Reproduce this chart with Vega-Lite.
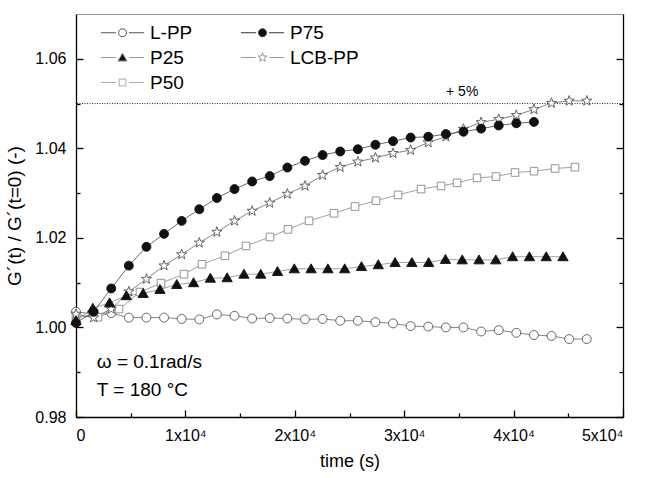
{
  "$schema": "https://vega.github.io/schema/vega-lite/v6.json",
  "width": 547,
  "height": 403,
  "autosize": {"type": "none"},
  "padding": {"left": 76, "top": 14, "right": 23, "bottom": 61},
  "background": "white",
  "config": {
    "view": {"stroke": "#9a9a9a", "strokeWidth": 1},
    "font": "Liberation Sans",
    "axis": {
      "grid": false,
      "labelFont": "Liberation Sans",
      "titleFont": "Liberation Sans",
      "labelColor": "#000",
      "titleColor": "#000",
      "titleFontWeight": "normal",
      "domainColor": "#000",
      "tickColor": "#000",
      "domainWidth": 1.3,
      "tickWidth": 1.3,
      "labelFontSize": 16,
      "titleFontSize": 18
    }
  },
  "data": {
    "values": [
      {"s": "L-PP", "t": 0, "v": 1.0035},
      {"s": "L-PP", "t": 1610, "v": 1.0030},
      {"s": "L-PP", "t": 3220, "v": 1.0032},
      {"s": "L-PP", "t": 4830, "v": 1.0022},
      {"s": "L-PP", "t": 6440, "v": 1.0022},
      {"s": "L-PP", "t": 8050, "v": 1.0022},
      {"s": "L-PP", "t": 9660, "v": 1.0019},
      {"s": "L-PP", "t": 11270, "v": 1.0018},
      {"s": "L-PP", "t": 12880, "v": 1.0029},
      {"s": "L-PP", "t": 14490, "v": 1.0026},
      {"s": "L-PP", "t": 16100, "v": 1.0020},
      {"s": "L-PP", "t": 17710, "v": 1.0021},
      {"s": "L-PP", "t": 19320, "v": 1.0020},
      {"s": "L-PP", "t": 20930, "v": 1.0018},
      {"s": "L-PP", "t": 22540, "v": 1.0019},
      {"s": "L-PP", "t": 24150, "v": 1.0015},
      {"s": "L-PP", "t": 25760, "v": 1.0015},
      {"s": "L-PP", "t": 27370, "v": 1.0012},
      {"s": "L-PP", "t": 28980, "v": 1.0009},
      {"s": "L-PP", "t": 30590, "v": 1.0003},
      {"s": "L-PP", "t": 32200, "v": 1.0002},
      {"s": "L-PP", "t": 33810, "v": 1.0000},
      {"s": "L-PP", "t": 35420, "v": 1.0000},
      {"s": "L-PP", "t": 37030, "v": 0.9991},
      {"s": "L-PP", "t": 38640, "v": 0.9994},
      {"s": "L-PP", "t": 40250, "v": 0.9988},
      {"s": "L-PP", "t": 41860, "v": 0.9983},
      {"s": "L-PP", "t": 43470, "v": 0.9981},
      {"s": "L-PP", "t": 45080, "v": 0.9974},
      {"s": "L-PP", "t": 46690, "v": 0.9974},
      {"s": "P50", "t": 0, "v": 1.0025},
      {"s": "P50", "t": 2010, "v": 1.0023},
      {"s": "P50", "t": 3930, "v": 1.0041},
      {"s": "P50", "t": 5850, "v": 1.0079},
      {"s": "P50", "t": 7770, "v": 1.0099},
      {"s": "P50", "t": 9870, "v": 1.0119},
      {"s": "P50", "t": 11520, "v": 1.0141},
      {"s": "P50", "t": 13620, "v": 1.0160},
      {"s": "P50", "t": 15540, "v": 1.0182},
      {"s": "P50", "t": 17730, "v": 1.0202},
      {"s": "P50", "t": 19380, "v": 1.0219},
      {"s": "P50", "t": 21300, "v": 1.0238},
      {"s": "P50", "t": 23580, "v": 1.0255},
      {"s": "P50", "t": 25500, "v": 1.0270},
      {"s": "P50", "t": 27420, "v": 1.0283},
      {"s": "P50", "t": 29440, "v": 1.0296},
      {"s": "P50", "t": 31540, "v": 1.0309},
      {"s": "P50", "t": 33370, "v": 1.0316},
      {"s": "P50", "t": 34830, "v": 1.0323},
      {"s": "P50", "t": 36660, "v": 1.0334},
      {"s": "P50", "t": 38390, "v": 1.0337},
      {"s": "P50", "t": 40130, "v": 1.0346},
      {"s": "P50", "t": 41870, "v": 1.0349},
      {"s": "P50", "t": 43790, "v": 1.0355},
      {"s": "P50", "t": 45610, "v": 1.0358},
      {"s": "LCB-PP", "t": 0, "v": 1.0030},
      {"s": "LCB-PP", "t": 1610, "v": 1.0022},
      {"s": "LCB-PP", "t": 3220, "v": 1.0041},
      {"s": "LCB-PP", "t": 4830, "v": 1.0080},
      {"s": "LCB-PP", "t": 6440, "v": 1.0108},
      {"s": "LCB-PP", "t": 8050, "v": 1.0138},
      {"s": "LCB-PP", "t": 9660, "v": 1.0163},
      {"s": "LCB-PP", "t": 11270, "v": 1.0189},
      {"s": "LCB-PP", "t": 12880, "v": 1.0213},
      {"s": "LCB-PP", "t": 14490, "v": 1.0238},
      {"s": "LCB-PP", "t": 16100, "v": 1.0260},
      {"s": "LCB-PP", "t": 17710, "v": 1.0278},
      {"s": "LCB-PP", "t": 19320, "v": 1.0298},
      {"s": "LCB-PP", "t": 20930, "v": 1.0316},
      {"s": "LCB-PP", "t": 22540, "v": 1.0340},
      {"s": "LCB-PP", "t": 24150, "v": 1.0358},
      {"s": "LCB-PP", "t": 25760, "v": 1.0370},
      {"s": "LCB-PP", "t": 27370, "v": 1.0379},
      {"s": "LCB-PP", "t": 28980, "v": 1.0389},
      {"s": "LCB-PP", "t": 30590, "v": 1.0396},
      {"s": "LCB-PP", "t": 32200, "v": 1.0413},
      {"s": "LCB-PP", "t": 33810, "v": 1.0426},
      {"s": "LCB-PP", "t": 35420, "v": 1.0443},
      {"s": "LCB-PP", "t": 37030, "v": 1.0458},
      {"s": "LCB-PP", "t": 38640, "v": 1.0465},
      {"s": "LCB-PP", "t": 40250, "v": 1.0474},
      {"s": "LCB-PP", "t": 41860, "v": 1.0487},
      {"s": "LCB-PP", "t": 43470, "v": 1.0501},
      {"s": "LCB-PP", "t": 45080, "v": 1.0506},
      {"s": "LCB-PP", "t": 46690, "v": 1.0506},
      {"s": "P25", "t": 0, "v": 1.0015},
      {"s": "P25", "t": 1535, "v": 1.0043},
      {"s": "P25", "t": 3070, "v": 1.0055},
      {"s": "P25", "t": 4605, "v": 1.0071},
      {"s": "P25", "t": 6140, "v": 1.0076},
      {"s": "P25", "t": 7675, "v": 1.0085},
      {"s": "P25", "t": 9210, "v": 1.0096},
      {"s": "P25", "t": 10745, "v": 1.0100},
      {"s": "P25", "t": 12280, "v": 1.0110},
      {"s": "P25", "t": 13815, "v": 1.0111},
      {"s": "P25", "t": 15350, "v": 1.0119},
      {"s": "P25", "t": 16885, "v": 1.0119},
      {"s": "P25", "t": 18420, "v": 1.0125},
      {"s": "P25", "t": 19955, "v": 1.0131},
      {"s": "P25", "t": 21490, "v": 1.0131},
      {"s": "P25", "t": 23025, "v": 1.0131},
      {"s": "P25", "t": 24560, "v": 1.0131},
      {"s": "P25", "t": 26095, "v": 1.0136},
      {"s": "P25", "t": 27630, "v": 1.0140},
      {"s": "P25", "t": 29165, "v": 1.0145},
      {"s": "P25", "t": 30700, "v": 1.0145},
      {"s": "P25", "t": 32235, "v": 1.0145},
      {"s": "P25", "t": 33770, "v": 1.0152},
      {"s": "P25", "t": 35305, "v": 1.0151},
      {"s": "P25", "t": 36840, "v": 1.0151},
      {"s": "P25", "t": 38375, "v": 1.0151},
      {"s": "P25", "t": 39910, "v": 1.0158},
      {"s": "P25", "t": 41445, "v": 1.0158},
      {"s": "P25", "t": 42980, "v": 1.0158},
      {"s": "P25", "t": 44515, "v": 1.0158},
      {"s": "P75", "t": 0, "v": 1.0010},
      {"s": "P75", "t": 1610, "v": 1.0035},
      {"s": "P75", "t": 3220, "v": 1.0087},
      {"s": "P75", "t": 4830, "v": 1.0138},
      {"s": "P75", "t": 6440, "v": 1.0180},
      {"s": "P75", "t": 8050, "v": 1.0209},
      {"s": "P75", "t": 9660, "v": 1.0238},
      {"s": "P75", "t": 11270, "v": 1.0264},
      {"s": "P75", "t": 12880, "v": 1.0289},
      {"s": "P75", "t": 14490, "v": 1.0309},
      {"s": "P75", "t": 16100, "v": 1.0326},
      {"s": "P75", "t": 17710, "v": 1.0338},
      {"s": "P75", "t": 19320, "v": 1.0357},
      {"s": "P75", "t": 20930, "v": 1.0372},
      {"s": "P75", "t": 22540, "v": 1.0385},
      {"s": "P75", "t": 24150, "v": 1.0393},
      {"s": "P75", "t": 25760, "v": 1.0398},
      {"s": "P75", "t": 27370, "v": 1.0408},
      {"s": "P75", "t": 28980, "v": 1.0416},
      {"s": "P75", "t": 30590, "v": 1.0424},
      {"s": "P75", "t": 32200, "v": 1.0426},
      {"s": "P75", "t": 33810, "v": 1.0432},
      {"s": "P75", "t": 35420, "v": 1.0437},
      {"s": "P75", "t": 37030, "v": 1.0444},
      {"s": "P75", "t": 38640, "v": 1.0451},
      {"s": "P75", "t": 40250, "v": 1.0456},
      {"s": "P75", "t": 41860, "v": 1.0459}
    ]
  },
  "resolve": {
    "axis": {"x": "independent", "y": "independent"},
    "scale": {"shape": "independent", "fill": "independent", "stroke": "independent"}
  },
  "layer": [
    {
      "data": {"values": [{}]},
      "mark": {"type": "rule", "color": "#222", "strokeWidth": 1, "strokeDash": [1, 1.5]},
      "encoding": {
        "y": {"datum": 1.05, "type": "quantitative", "scale": {"domain": [0.98, 1.07], "nice": false, "zero": false}, "axis": null}
      }
    },
    {
      "mark": {"type": "line", "strokeWidth": 0.8},
      "encoding": {
        "x": {
          "field": "t", "type": "quantitative",
          "scale": {"domain": [0, 50000], "nice": false, "zero": false},
          "axis": {
            "orient": "bottom",
            "values": [0, 10000, 20000, 30000, 40000, 50000],
            "labelExpr": "datum.value == 0 ? '0' : format(datum.value / 10000, 'd') + 'x10⁴'",
            "tickSize": -7,
            "labelPadding": 17,
            "title": "time  (s)",
            "titlePadding": 9
          }
        },
        "y": {
          "field": "v", "type": "quantitative",
          "scale": {"domain": [0.98, 1.07], "nice": false, "zero": false},
          "axis": {
            "orient": "left",
            "values": [0.98, 1.0, 1.02, 1.04, 1.06],
            "format": ".2f",
            "tickSize": -7,
            "labelPadding": 17,
            "title": "G´(t) / G´(t=0)   (-)",
            "titleFontSize": 19,
            "titlePadding": 10
          }
        },
        "detail": {"field": "s", "type": "nominal"},
        "color": {
          "field": "s", "type": "nominal", "legend": null,
          "scale": {"domain": ["L-PP", "P75", "P25", "LCB-PP", "P50"], "range": ["#666666", "#444444", "#888888", "#666666", "#888888"]}
        }
      }
    },
    {
      "mark": {"type": "point", "opacity": 1, "size": 80, "strokeWidth": 0.9},
      "encoding": {
        "x": {
          "field": "t", "type": "quantitative",
          "scale": {"domain": [0, 50000], "nice": false, "zero": false},
          "axis": {"orient": "bottom", "values": [5000, 15000, 25000, 35000, 45000], "tickSize": -4, "labels": false, "domain": false, "title": null}
        },
        "y": {
          "field": "v", "type": "quantitative",
          "scale": {"domain": [0.98, 1.07], "nice": false, "zero": false},
          "axis": {"orient": "left", "values": [0.99, 1.01, 1.03, 1.05], "tickSize": -4, "labels": false, "domain": false, "title": null}
        },
        "shape": {
          "field": "s", "type": "nominal", "legend": null,
          "scale": {
            "domain": ["L-PP", "P75", "P25", "LCB-PP", "P50"],
            "range": [
              "circle",
              "circle",
              "M0,-1.1L1.15,0.9L-1.15,0.9Z",
              "M0,-1.2L0.282,-0.389L1.141,-0.371L0.456,0.149L0.706,0.971L0,0.48L-0.706,0.971L-0.456,0.149L-1.141,-0.371L-0.282,-0.389Z",
              "M-0.85,-0.85L0.85,-0.85L0.85,0.85L-0.85,0.85Z"
            ]
          }
        },
        "fill": {
          "field": "s", "type": "nominal", "legend": null,
          "scale": {"domain": ["L-PP", "P75", "P25", "LCB-PP", "P50"], "range": ["#ffffff", "#111111", "#111111", "#ffffff", "#ffffff"]}
        },
        "stroke": {
          "field": "s", "type": "nominal", "legend": null,
          "scale": {"domain": ["L-PP", "P75", "P25", "LCB-PP", "P50"], "range": ["#555555", "#111111", "#111111", "#555555", "#888888"]}
        }
      }
    },
    {
      "transform": [{"filter": "datum.v > 5"}],
      "mark": {"type": "point", "opacity": 1, "size": 64, "strokeWidth": 1},
      "encoding": {
        "x": {"field": "t", "type": "quantitative", "scale": {"domain": [0, 50000], "nice": false, "zero": false}, "axis": null},
        "y": {
          "field": "v", "type": "quantitative",
          "scale": {"domain": [0.98, 1.07], "nice": false, "zero": false},
          "axis": {"orient": "right", "values": [0.98, 1.0, 1.02, 1.04, 1.06], "tickSize": -7, "labels": false, "title": null}
        },
        "shape": {
          "field": "s", "type": "nominal",
          "scale": {
            "domain": ["L-PP", "P25", "P50", "P75", "LCB-PP"],
            "range": [
              "M-1,0A1,1,0,1,1,1,0A1,1,0,1,1,-1,0Z M-5.4,0L-1.6,0 M1.6,0L5.4,0",
              "M0,-1.1L1.15,0.9L-1.15,0.9Z M-5.4,0L-1.7,0 M1.7,0L5.4,0",
              "M-0.85,-0.85L0.85,-0.85L0.85,0.85L-0.85,0.85Z M-5.4,0L-1.6,0 M1.6,0L5.4,0",
              "M-1,0A1,1,0,1,1,1,0A1,1,0,1,1,-1,0Z M-5.4,0L-1.6,0 M1.6,0L5.4,0",
              "M0,-1.2L0.282,-0.389L1.141,-0.371L0.456,0.149L0.706,0.971L0,0.48L-0.706,0.971L-0.456,0.149L-1.141,-0.371L-0.282,-0.389Z M-5.4,0L-1.7,0 M1.7,0L5.4,0"
            ]
          },
          "legend": {
            "orient": "none", "legendX": 37, "legendY": 9, "title": null, "columns": 2,
            "columnPadding": 45, "rowPadding": 5, "symbolSize": 64, "symbolStrokeWidth": 1,
            "labelFontSize": 19, "labelFont": "Liberation Sans", "labelColor": "#000", "labelOffset": 18,
            "padding": 0, "symbolOpacity": 1
          }
        },
        "fill": {
          "field": "s", "type": "nominal",
          "scale": {"domain": ["L-PP", "P25", "P50", "P75", "LCB-PP"], "range": ["#ffffff", "#111111", "#ffffff", "#111111", "#ffffff"]},
          "legend": {
            "orient": "none", "legendX": 37, "legendY": 9, "title": null, "columns": 2,
            "columnPadding": 45, "rowPadding": 5, "symbolSize": 64, "symbolStrokeWidth": 1,
            "labelFontSize": 19, "labelFont": "Liberation Sans", "labelColor": "#000", "labelOffset": 18,
            "padding": 0, "symbolOpacity": 1
          }
        },
        "stroke": {
          "field": "s", "type": "nominal",
          "scale": {"domain": ["L-PP", "P25", "P50", "P75", "LCB-PP"], "range": ["#555555", "#999999", "#aaaaaa", "#333333", "#999999"]},
          "legend": {
            "orient": "none", "legendX": 37, "legendY": 9, "title": null, "columns": 2,
            "columnPadding": 45, "rowPadding": 5, "symbolSize": 64, "symbolStrokeWidth": 1,
            "labelFontSize": 19, "labelFont": "Liberation Sans", "labelColor": "#000", "labelOffset": 18,
            "padding": 0, "symbolOpacity": 1
          }
        }
      }
    },
    {
      "data": {"values": [{}]},
      "mark": {"type": "text", "text": "ω = 0.1rad/s", "align": "left", "baseline": "alphabetic", "fontSize": 19, "font": "Liberation Sans", "color": "#000"},
      "encoding": {
        "x": {"datum": 1900, "type": "quantitative", "axis": null},
        "y": {
          "datum": 0.9909, "type": "quantitative",
          "axis": {"orient": "right", "values": [0.99, 1.01, 1.03, 1.05], "tickSize": -4, "labels": false, "domain": false, "title": null}
        }
      }
    },
    {
      "data": {"values": [{}]},
      "mark": {"type": "text", "text": "T = 180 °C", "align": "left", "baseline": "alphabetic", "fontSize": 19, "font": "Liberation Sans", "color": "#000"},
      "encoding": {
        "x": {"datum": 1900, "type": "quantitative", "axis": null},
        "y": {"datum": 0.9847, "type": "quantitative", "axis": null}
      }
    },
    {
      "data": {"values": [{}]},
      "mark": {"type": "text", "text": "+ 5%", "align": "center", "baseline": "alphabetic", "fontSize": 14, "font": "Liberation Sans", "color": "#000"},
      "encoding": {
        "x": {"datum": 35300, "type": "quantitative", "axis": null},
        "y": {"datum": 1.0517, "type": "quantitative", "axis": null}
      }
    }
  ]
}
